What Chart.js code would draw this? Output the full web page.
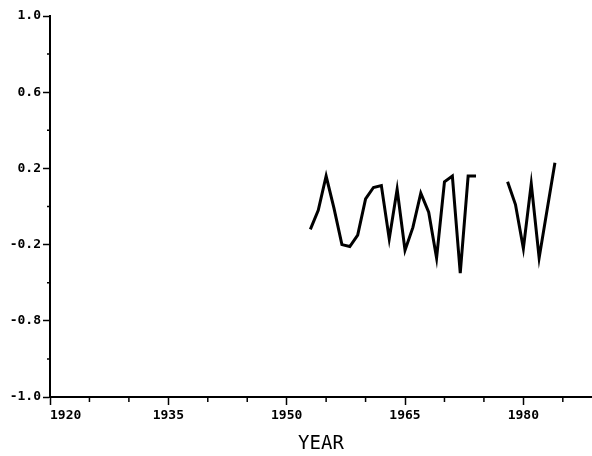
<!DOCTYPE html>
<html lang="en">
<head>
  <meta charset="UTF-8">
  <title>Series by Year</title>
  <script src="https://cdn.jsdelivr.net/npm/chart.js"></script>
  <style>
    body {
      background-color: #fff;
      margin: 0;
    }
    canvas {
      display: block;
    }
  </style>
</head>
<body>
<canvas id="yearChart" width="592" height="456"></canvas>

<script>
  // values, one per year (null = no data)
  const years = [
    1953, 1954, 1955, 1956, 1957, 1958, 1959, 1960, 1961, 1962, 1963,
    1964, 1965, 1966, 1967, 1968, 1969, 1970, 1971, 1972, 1973, 1974,
    1975, 1976, 1977,
    1978, 1979, 1980, 1981, 1982, 1983, 1984
  ];
  const values = [
    -0.12, -0.02, 0.16, -0.01, -0.20, -0.21, -0.15, 0.04, 0.10, 0.11, -0.17,
    0.09, -0.23, -0.11, 0.07, -0.03, -0.27, 0.13, 0.16, -0.35, 0.16, 0.16,
    null, null, null,
    0.13, 0.01, -0.22, 0.12, -0.27, -0.02, 0.23
  ];

  const xTickValues = [1920, 1935, 1950, 1965, 1980];
  const xTickLabels = ['1920', '1935', '1950', '1965', '1980'];
  const xMinorTicks = [1925, 1930, 1940, 1945, 1955, 1960, 1970, 1975, 1985];

  const yTickValues = [1.0, 0.6, 0.2, -0.2, -0.6, -1.0];
  const yTickLabels = ['1.0', '0.6', '0.2', '-0.2', '-0.8', '-1.0'];
  const yMinorTicks = [0.8, 0.4, 0.0, -0.4, -0.8];

  const tickFont = { family: '"DejaVu Sans Mono", monospace', size: 13, weight: 'bold' };

  // short ticks between the labelled ones
  const minorTicks = {
    id: 'minorTicks',
    afterDraw(chart) {
      const { ctx, scales: { x, y } } = chart;
      ctx.save();
      ctx.strokeStyle = '#000';
      ctx.lineWidth = 1.5;
      ctx.beginPath();
      xMinorTicks.forEach(v => {
        const px = x.getPixelForValue(v);
        ctx.moveTo(px, x.top);
        ctx.lineTo(px, x.top + 5);
      });
      yMinorTicks.forEach(v => {
        const py = y.getPixelForValue(v);
        ctx.moveTo(y.right, py);
        ctx.lineTo(y.right - 3, py);
      });
      ctx.stroke();
      ctx.restore();
    }
  };

  new Chart(document.getElementById('yearChart'), {
    type: 'line',
    data: {
      datasets: [{
        data: years.map((yr, i) => ({ x: yr, y: values[i] })),
        borderColor: '#000',
        borderWidth: 3,
        pointRadius: 0,
        tension: 0,
        spanGaps: false
      }]
    },
    options: {
      responsive: false,
      animation: false,
      layout: { padding: { top: 16, right: 0, bottom: 0, left: 0 } },
      plugins: {
        legend: { display: false },
        tooltip: { enabled: false }
      },
      scales: {
        x: {
          type: 'linear',
          min: 1920,
          max: 1988.7,
          afterBuildTicks: s => { s.ticks = xTickValues.map(v => ({ value: v })); },
          afterFit: s => { s.height = 59; },
          grid: { drawOnChartArea: false, tickLength: 8, tickColor: '#000', tickWidth: 1.5 },
          border: { color: '#000', width: 2 },
          ticks: {
            autoSkip: false,
            maxRotation: 0,
            padding: 3,
            color: '#000',
            font: tickFont,
            // first label sits to the right of its tick
            callback: (v, i) => i === 0 ? '    ' + xTickLabels[i] : xTickLabels[i]
          },
          title: {
            display: true,
            text: 'YEAR',
            color: '#000',
            font: { family: '"DejaVu Sans Mono", monospace', size: 19 },
            padding: { top: 0, bottom: 1 }
          }
        },
        y: {
          min: -1,
          max: 1,
          afterBuildTicks: s => { s.ticks = yTickValues.map(v => ({ value: v })); },
          afterFit: s => { s.width = 50; },
          grid: { drawOnChartArea: false, tickLength: 7, tickColor: '#000', tickWidth: 1.5 },
          border: { color: '#000', width: 2 },
          ticks: {
            autoSkip: false,
            padding: 2,
            color: '#000',
            font: tickFont,
            callback: (v, i) => yTickLabels[i]
          }
        }
      }
    },
    plugins: [minorTicks]
  });
</script>
</body>
</html>
